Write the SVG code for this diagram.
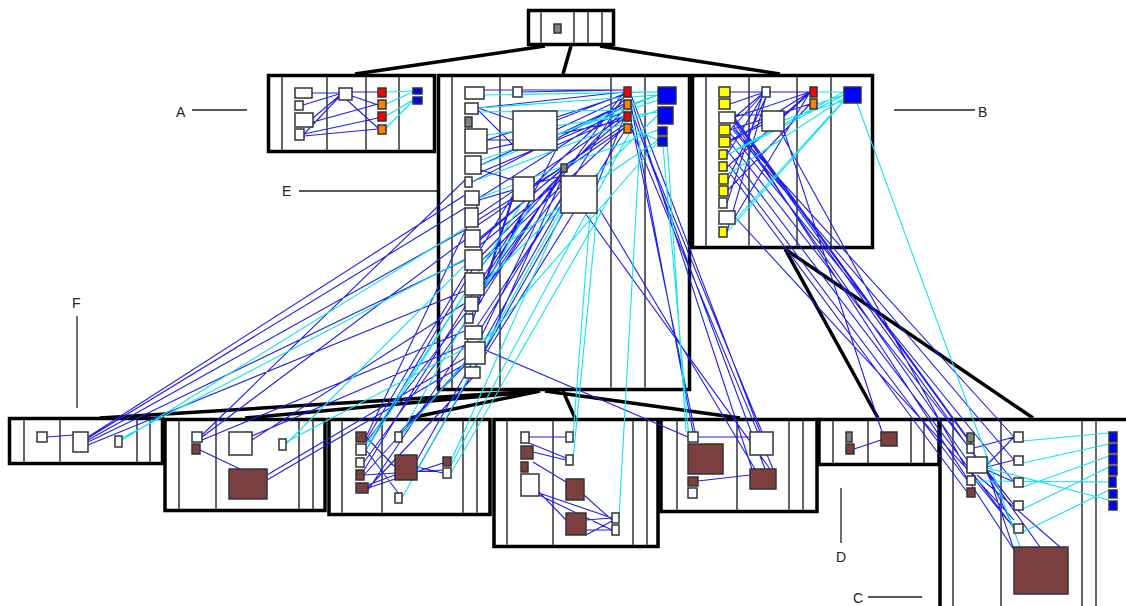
<svg xmlns="http://www.w3.org/2000/svg" width="1126" height="606" viewBox="0 0 1126 606">
<style>
.fr{fill:#fff;stroke:#000;stroke-width:3.5}
.vl{stroke:#555;stroke-width:1.8}
.b{fill:#fff;stroke:#333;stroke-width:1.5}
.br{fill:#7d4040;stroke:#333;stroke-width:1.5}
.ye{fill:#ffff00;stroke:#333;stroke-width:1.5}
.rd{fill:#ff0000;stroke:#333;stroke-width:1.5}
.or{fill:#ff8000;stroke:#333;stroke-width:1.5}
.bl{fill:#0000ff;stroke:#333;stroke-width:1.5}
.gy{fill:#808080;stroke:#333;stroke-width:1.5}
.lb{fill:none;stroke:#1f1ff2;stroke-width:1.1}
.lc{fill:none;stroke:#10e4ee;stroke-width:1.1}
.te{fill:none;stroke:#000;stroke-width:3.5}
.lab{font-family:"Liberation Sans",Arial,sans-serif;font-size:14px;fill:#222}
.ll{stroke:#222;stroke-width:1.3}
</style>
<g id="tree-edges">
<path class="te" d="M545 46L355 74M571 46L563 74M600 46L780 74M540 391L100 418M540 391L245 418M540 391L410 418M563 391L575 418M545 391L740 418M785 249L878 418M785 249L1033 418"/>
</g>
<g id="node-top"><rect class="fr" x="528.5" y="10.5" width="85" height="34"/><path class="vl" d="M541 12V43M574 12V43M588 12V43M602 12V43"/></g>
<g id="node-A"><rect class="fr" x="268.5" y="75.5" width="166" height="76"/><path class="vl" d="M282 77V150M327 77V150M366 77V150M399 77V150"/></g>
<g id="node-E"><rect class="fr" x="438.5" y="75.5" width="251" height="314"/><path class="vl" d="M452 77V388M500 77V388M611 77V388M645 77V388"/></g>
<g id="node-B"><rect class="fr" x="692.5" y="75.5" width="180" height="172"/><path class="vl" d="M706 77V246M749 77V246M797 77V246M831 77V246"/></g>
<g id="node-F"><rect class="fr" x="9.5" y="418.5" width="153" height="45"/><path class="vl" d="M24 420V462M60 420V462M137 420V462M150 420V462"/></g>
<g id="node-2"><rect class="fr" x="165" y="419.5" width="160" height="91"/><path class="vl" d="M179 421V509M216 421V509M299 421V509M313 421V509"/></g>
<g id="node-3"><rect class="fr" x="329" y="419.5" width="161" height="95"/><path class="vl" d="M342 421V513M382 421V513M463 421V513M477 421V513"/></g>
<g id="node-4"><rect class="fr" x="494" y="419.5" width="164" height="127"/><path class="vl" d="M507 421V545M553 421V545M633 421V545M647 421V545"/></g>
<g id="node-5"><rect class="fr" x="661" y="419.5" width="156" height="92"/><path class="vl" d="M677 421V510M737 421V510M789 421V510M803 421V510"/></g>
<g id="node-D"><rect class="fr" x="819" y="419.5" width="120" height="45"/><path class="vl" d="M833 421V463M868 421V463M911 421V463M924 421V463"/></g>
<g id="node-C"><rect class="fr" x="940" y="419.5" width="200" height="200"/><path class="vl" d="M953 421V606M1001 421V606M1082 421V606M1096 421V606"/></g>
<g id="connectors">
<path class="lb" d="M312 93L339 93M303 105L339 94M313 118L339 96M304 134L339 97M313 122L378 104M304 134L378 118M304 136L378 129M352 92L378 92M347 100L378 128M352 96L378 105
M484 90L624 90M478 108L624 92M487 140L624 95M481 165L624 98M472 182L624 104M479 198L624 106M478 215L624 116M480 238L624 118M482 260L624 128M484 283L624 92M557 120L624 94M557 135L624 104M557 145L624 116M534 185L624 100M567 168L624 128M597 185L624 118M522 92L624 90M484 150L624 120M478 220L561 168M480 240L561 170M482 265L563 172M484 290L563 172M478 305L562 172M482 335L561 172M485 350L565 172M479 200L513 190M481 170L513 180M487 140L513 140M478 108L513 120M473 320L513 195M484 290L513 198M478 110L513 145M480 245L561 180M482 255L624 110M478 225L624 125M479 200L561 176M484 280L534 201M480 330L624 96M481 172L624 112M478 300L557 148M485 355L624 132
M88 437L465 195M88 440L465 230M88 442L465 260M88 445L467 290M47 437L73 435M88 438L465 208
M202 437L465 240M202 440L467 330M252 440L470 300M252 436L465 345M267 475L470 355M267 480L472 360M200 450L240 469M202 435L465 180
M366 437L480 200M366 450L478 260M364 462L482 300M364 475L485 340M368 488L480 370M366 440L513 195M368 490L561 200M417 460L561 205M417 470L565 210M400 432L480 350M366 437L395 467M368 488L443 463M417 467L443 473M366 450L402 498M364 475L443 470M368 485L395 475M366 442L561 190M364 470L534 195
M529 437L566 437M533 452L566 460M529 443L566 458M533 462L566 482M539 493L612 518M539 495L612 530M539 492L566 520M584 495L612 520M586 520L612 518M586 530L612 530M586 535L612 521
M485 350L688 437M698 437L750 437M698 481L750 475M693 432L631 105M695 432L631 120M760 432L631 95M762 432L640 135M765 469L631 110M755 469L600 210M770 469L585 213M773 469L631 128M752 469L631 100
M784 131L882 432M854 449L881 440
M730 92L762 92M730 104L762 93M735 117L762 94M735 117L810 92M730 130L762 95M730 142L810 92M727 155L762 97M727 167L810 93M728 180L766 97M728 190L810 104M727 203L762 97M735 217L810 92M770 92L810 92M784 115L810 92M727 232L766 97M730 130L810 104M735 115L762 115M730 140L762 125
M735 118L967 437M735 120L974 448M733 125L967 460M733 128L1014 437M733 130L1014 460M730 133L1014 482M728 140L1014 505M727 150L1014 528M735 123L1014 550M735 121L1040 547M729 165L967 480M729 172L967 492M735 217L1014 520M780 131L967 470
M987 465L1014 437M987 467L1014 460M987 470L1014 482M987 472L1014 505M987 473L1014 528M975 480L1014 528M977 475L1060 547M974 448L1014 437M987 470L1014 550"/>
<path class="lc" d="M386 92L413 91M386 104L413 92M386 116L413 100M386 128L413 101
M478 108L658 95M484 95L658 92M487 135L658 112M481 165L658 95M472 182L658 110M479 198L658 130M482 260L658 140M484 283L658 115M631 92L658 92M631 104L658 95M631 116L658 112M631 128L658 140M478 112L624 110M481 160L658 100
M122 440L478 220M122 438L482 250M286 444L480 250M286 442L500 330
M402 432L534 200M402 498L561 210M451 461L563 210M451 473L611 195M366 450L524 200M366 445L480 270M451 465L631 130M402 435L658 142
M573 437L590 215M573 460L597 212M619 518L640 140M690 450L663 146M686 432L667 140
M861 95L784 120M844 92L735 150M844 95L727 155M844 98L727 175M844 100L735 220M844 101L727 232M817 92L844 92M817 104L844 95M857 103L1020 547
M1023 441L1109 433M1023 463L1109 444M1023 487L1109 456M1023 509L1109 467M1023 532L1109 490M975 481L1109 482M987 468L1109 500"/>
</g>
<g id="boxes-top"><rect class="gy" x="554" y="24" width="7" height="9"/></g>
<g id="boxes-A">
<rect class="b" x="295" y="88" width="17" height="10"/><rect class="b" x="295" y="101" width="8" height="9"/><rect class="b" x="295" y="113" width="18" height="14"/><rect class="b" x="295" y="129" width="9" height="11"/>
<rect class="b" x="339" y="88" width="13" height="12"/>
<rect class="rd" x="378" y="88" width="8" height="9"/><rect class="or" x="378" y="100" width="8" height="9"/><rect class="rd" x="378" y="112" width="8" height="9"/><rect class="or" x="378" y="125" width="8" height="9"/>
<rect class="bl" x="413" y="88" width="9" height="6"/><rect class="bl" x="413" y="97" width="9" height="7"/>
</g>
<g id="boxes-E">
<rect class="b" x="465" y="87" width="19" height="12"/><rect class="b" x="465" y="103" width="13" height="11"/><rect class="gy" x="465" y="117" width="7" height="10"/><rect class="b" x="465" y="129" width="22" height="24"/><rect class="b" x="465" y="156" width="16" height="18"/><rect class="b" x="465" y="177" width="7" height="10"/><rect class="b" x="465" y="191" width="14" height="14"/><rect class="b" x="465" y="208" width="13" height="19"/><rect class="b" x="465" y="230" width="15" height="17"/><rect class="b" x="465" y="250" width="17" height="20"/><rect class="b" x="465" y="273" width="19" height="22"/><rect class="b" x="465" y="297" width="13" height="14"/><rect class="b" x="465" y="314" width="8" height="9"/><rect class="b" x="465" y="326" width="17" height="13"/><rect class="b" x="465" y="342" width="20" height="22"/><rect class="b" x="465" y="367" width="15" height="11"/>
<rect class="b" x="513" y="87" width="9" height="10"/><rect class="b" x="513" y="111" width="44" height="39"/><rect class="b" x="513" y="177" width="21" height="24"/><rect class="gy" x="561" y="164" width="6" height="8"/><rect class="b" x="561" y="176" width="36" height="37"/>
<rect class="rd" x="624" y="87" width="7" height="10"/><rect class="or" x="624" y="100" width="7" height="9"/><rect class="rd" x="624" y="112" width="7" height="9"/><rect class="or" x="624" y="124" width="7" height="9"/>
<rect class="bl" x="658" y="87" width="18" height="17"/><rect class="bl" x="658" y="107" width="15" height="17"/><rect class="bl" x="658" y="127" width="9" height="8"/><rect class="bl" x="658" y="137" width="9" height="9"/>
</g>
<g id="boxes-B">
<rect class="ye" x="719" y="87" width="11" height="10"/><rect class="ye" x="719" y="99" width="11" height="10"/><rect class="b" x="719" y="112" width="16" height="11"/><rect class="ye" x="719" y="125" width="11" height="10"/><rect class="ye" x="719" y="137" width="11" height="10"/><rect class="ye" x="719" y="150" width="8" height="9"/><rect class="ye" x="719" y="162" width="8" height="9"/><rect class="ye" x="719" y="174" width="9" height="10"/><rect class="ye" x="719" y="186" width="9" height="10"/><rect class="b" x="719" y="198" width="8" height="10"/><rect class="b" x="719" y="211" width="16" height="13"/><rect class="ye" x="719" y="227" width="8" height="10"/>
<rect class="b" x="762" y="87" width="8" height="10"/><rect class="b" x="762" y="111" width="22" height="20"/>
<rect class="rd" x="810" y="87" width="7" height="10"/><rect class="or" x="810" y="99" width="7" height="10"/>
<rect class="bl" x="844" y="87" width="17" height="16"/>
</g>
<g id="boxes-F"><rect class="b" x="37" y="432" width="10" height="10"/><rect class="b" x="73" y="432" width="15" height="20"/><rect class="b" x="115" y="436" width="7" height="11"/></g>
<g id="boxes-2"><rect class="b" x="192" y="432" width="10" height="10"/><rect class="br" x="192" y="444" width="8" height="10"/><rect class="b" x="229" y="432" width="23" height="23"/><rect class="b" x="279" y="439" width="7" height="11"/><rect class="br" x="229" y="469" width="38" height="30"/></g>
<g id="boxes-3"><rect class="br" x="356" y="432" width="10" height="10"/><rect class="b" x="356" y="444" width="10" height="11"/><rect class="b" x="356" y="458" width="8" height="9"/><rect class="br" x="356" y="470" width="8" height="10"/><rect class="br" x="356" y="483" width="12" height="10"/><rect class="b" x="395" y="432" width="7" height="10"/><rect class="br" x="395" y="455" width="22" height="25"/><rect class="br" x="443" y="457" width="8" height="9"/><rect class="b" x="443" y="468" width="8" height="10"/><rect class="b" x="395" y="493" width="7" height="10"/></g>
<g id="boxes-4"><rect class="b" x="521" y="432" width="8" height="11"/><rect class="br" x="521" y="446" width="12" height="13"/><rect class="br" x="521" y="462" width="7" height="10"/><rect class="b" x="521" y="474" width="18" height="22"/><rect class="b" x="566" y="432" width="7" height="10"/><rect class="b" x="566" y="455" width="7" height="10"/><rect class="br" x="566" y="479" width="18" height="21"/><rect class="br" x="566" y="513" width="20" height="22"/><rect class="b" x="612" y="513" width="7" height="10"/><rect class="b" x="612" y="525" width="7" height="10"/></g>
<g id="boxes-5"><rect class="b" x="688" y="432" width="10" height="10"/><rect class="br" x="688" y="444" width="35" height="30"/><rect class="br" x="688" y="477" width="10" height="9"/><rect class="b" x="688" y="488" width="9" height="10"/><rect class="b" x="750" y="432" width="23" height="23"/><rect class="br" x="750" y="469" width="26" height="20"/></g>
<g id="boxes-D"><rect class="gy" x="846" y="432" width="6" height="10"/><rect class="br" x="846" y="444" width="8" height="10"/><rect class="br" x="881" y="432" width="16" height="14"/></g>
<g id="boxes-C">
<rect class="gy" x="967" y="433" width="7" height="9"/><rect class="b" x="967" y="444" width="7" height="9"/><rect class="b" x="967" y="457" width="20" height="16"/><rect class="b" x="967" y="476" width="8" height="9"/><rect class="br" x="967" y="488" width="8" height="9"/>
<rect class="b" x="1014" y="432" width="9" height="10"/><rect class="b" x="1014" y="456" width="9" height="9"/><rect class="b" x="1014" y="478" width="9" height="9"/><rect class="b" x="1014" y="501" width="9" height="9"/><rect class="b" x="1014" y="524" width="9" height="9"/><rect class="br" x="1014" y="547" width="54" height="47"/>
<rect class="bl" x="1109" y="432" width="8" height="10"/><rect class="bl" x="1109" y="444" width="8" height="9"/><rect class="bl" x="1109" y="455" width="8" height="9"/><rect class="bl" x="1109" y="466" width="8" height="9"/><rect class="bl" x="1109" y="477" width="7" height="10"/><rect class="bl" x="1109" y="490" width="8" height="8"/><rect class="bl" x="1109" y="501" width="8" height="9"/>
</g>
<g id="labels">
<text class="lab" x="176" y="117">A</text><path class="ll" d="M192 110H247"/>
<text class="lab" x="978" y="117">B</text><path class="ll" d="M894 110H975"/>
<text class="lab" x="282" y="196">E</text><path class="ll" d="M299 191H437"/>
<text class="lab" x="72" y="308">F</text><path class="ll" d="M77 316V408"/>
<text class="lab" x="836" y="562">D</text><path class="ll" d="M841 488V543"/>
<text class="lab" x="853" y="603">C</text><path class="ll" d="M868 597H922"/>
</g>
</svg>
